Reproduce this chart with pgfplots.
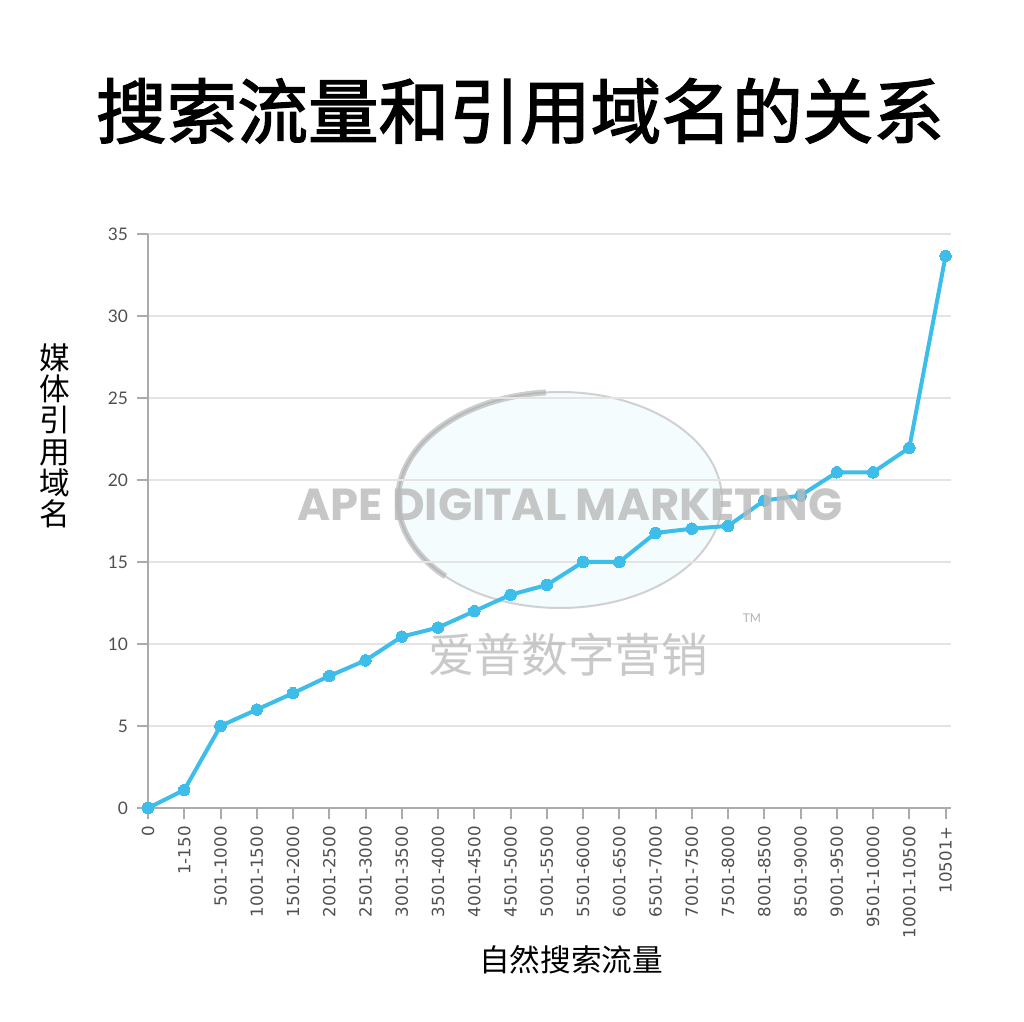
\documentclass[border=0pt]{standalone}
\usepackage{fontspec}
\usepackage{pgfplots}
\pgfplotsset{compat=1.18}
\setmainfont{Lato}
\newfontfamily\cjk{Noto Sans CJK SC}
\newfontfamily\cjkfb{Noto Sans CJK SC}[FakeBold=2]
\newfontfamily\pop{Poppins}
\newfontfamily\dv{DejaVu Sans}
\newcommand{\xl}[1]{{\dv\fontsize{12.5}{14}\selectfont #1}}
\definecolor{lineblue}{HTML}{3CBDEA}
\definecolor{tickgray}{HTML}{4F4F4F}
\definecolor{axisgray}{HTML}{ABABAB}
\definecolor{gridgray}{HTML}{E4E4E4}
\begin{document}
\begin{tikzpicture}[x=0.75pt,y=0.75pt]
\path[use as bounding box] (0,0) rectangle (1024,1021);
% watermark globe (background)
\fill[cyan!12, opacity=0.35] (560,521) ellipse [x radius=162, y radius=108];
\draw[gray!70, line width=1.5pt, opacity=0.5] (560,521) ellipse [x radius=162, y radius=108];
\draw[gray!70, line width=4.5pt, opacity=0.55] (560,521) ++(95:162 and 108) arc[start angle=95, end angle=225, x radius=162, y radius=108];
\begin{axis}[
  at={(111pt,159.75pt)}, anchor=south west,
  scale only axis, width=602.25pt, height=430.5pt,
  xmin=0, xmax=22.15, ymin=0, ymax=35,
  clip=false,
  axis x line*=bottom, axis y line*=left,
  axis line style={axisgray, line width=2pt, -},
  xtick={0,...,22},
  xticklabels={\xl{0},\xl{1-150},\xl{501-1000},\xl{1001-1500},\xl{1501-2000},\xl{2001-2500},\xl{2501-3000},\xl{3001-3500},\xl{3501-4000},\xl{4001-4500},\xl{4501-5000},\xl{5001-5500},\xl{5501-6000},\xl{6001-6500},\xl{6501-7000},\xl{7001-7500},\xl{7501-8000},\xl{8001-8500},\xl{8501-9000},\xl{9001-9500},\xl{9501-10000},\xl{10001-10500},\xl{10501+}},
  ytick={0,5,...,35},
  ymajorgrids, grid style={gridgray, line width=1.2pt},
  tick align=outside, major tick length=8.5pt,
  tick style={axisgray, line width=1.5pt},
  /pgf/number format/assume math mode=true,
  yticklabel style={font=\fontsize{13}{15}\selectfont, text=tickgray, xshift=-3pt},
  xticklabel style={rotate=90, anchor=east, inner xsep=5pt, text=tickgray},
]
\addplot[lineblue, line width=3pt, mark=*, mark size=4.3pt, mark options={fill=lineblue, draw=lineblue, line width=0pt}] coordinates {
(0,0) (1,1.1) (2,5) (3,6) (4,7) (5,8.05) (6,9) (7,10.45) (8,11) (9,12) (10,13) (11,13.6) (12,15) (13,15) (14,16.77) (15,17.03) (16,17.2) (17,18.75) (18,19.05) (19,20.47) (20,20.47) (21,21.96) (22,33.67)
};
\end{axis}
% watermark text
\node[text=gray!55, opacity=0.8, inner sep=0] at (570,516) {\resizebox{408.75pt}{!}{\pop\bfseries APE DIGITAL MARKETING}};
\node[text=gray!50, opacity=0.85, inner sep=0] at (568,366) {\cjk\fontsize{35}{35}\selectfont 爱普数字营销};
\node[text=gray!60, inner sep=0] at (752,403) {\fontsize{9}{9}\selectfont TM};
% titles
\node[inner sep=0] at (520,910) {\cjkfb\fontsize{53}{53}\selectfont 搜索流量和引用域名的关系};
\node[inner sep=0, align=center, font=\cjk\fontsize{23}{23.5}\selectfont] at (55,585) {媒\\体\\引\\用\\域\\名};
\node[inner sep=0] at (571,61) {\cjk\fontsize{23}{23}\selectfont 自然搜索流量};
\end{tikzpicture}
\end{document}
